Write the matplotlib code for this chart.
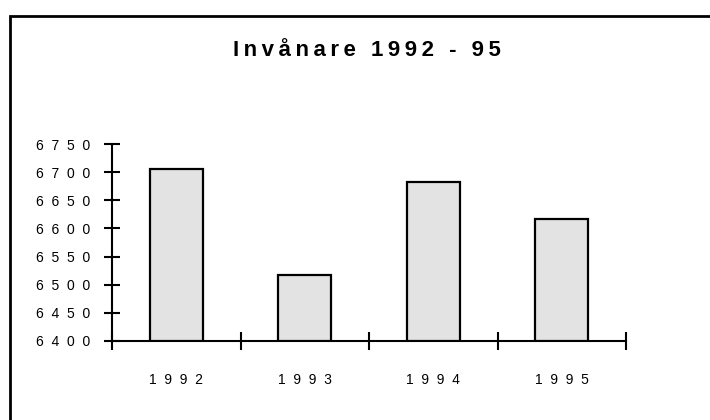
import matplotlib
matplotlib.use("Agg")
import matplotlib.pyplot as plt
from matplotlib.patches import Rectangle

years = ["1992", "1993", "1994", "1995"]
invanare = [6705, 6517, 6683, 6616]
y_ticks = [6400, 6450, 6500, 6550, 6600, 6650, 6700, 6750]
title = "Invånare 1992 - 95"

plt.rcParams['font.family'] = ['Liberation Sans', 'DejaVu Sans']


def spaced(s, gap="  "):
    # spread the letters like the old chart does
    return gap.join(s)


fig = plt.figure(figsize=(7.1, 4.2), dpi=100)
ax = fig.add_axes([112 / 710, 1 - 341 / 420, (626 - 112) / 710, (341 - 144) / 420])

x = list(range(len(years)))
ax.bar(x, [v - 6400 for v in invanare], bottom=6400, width=0.41,
       color="#e3e3e3", edgecolor="black", linewidth=1.6, zorder=3)

ax.set_xlim(-0.5, len(years) - 0.5)
ax.set_ylim(6400, 6750)

ax.set_yticks(y_ticks)
ax.set_yticklabels([spaced(str(t)) for t in y_ticks], fontsize=10)
ax.set_xticks([i - 0.5 for i in range(len(years) + 1)])
ax.set_xticklabels([])
ax.set_xticks(x, minor=True)
ax.set_xticklabels([spaced(y) for y in years], minor=True, fontsize=10)

ax.tick_params(axis="y", direction="inout", length=12, width=1.5, pad=10)
ax.tick_params(axis="x", which="major", direction="inout", length=13, width=1.5)
ax.tick_params(axis="x", which="minor", length=0, pad=23)

for side in ["top", "right"]:
    ax.spines[side].set_visible(False)
for side in ["left", "bottom"]:
    ax.spines[side].set_linewidth(1.5)

fig.text(367 / 710, 1 - 51 / 420, spaced(title, "\u2009"), ha="center", va="center",
         fontsize=16, fontweight="bold")

# outer frame, runs off the right and bottom edges
fig.add_artist(Rectangle((9.5 / 710, -0.1), 1.2, 1 - 15.5 / 420 + 0.1,
                         transform=fig.transFigure, fill=False,
                         edgecolor="black", linewidth=2))

fig.savefig("out.png", dpi=100)
